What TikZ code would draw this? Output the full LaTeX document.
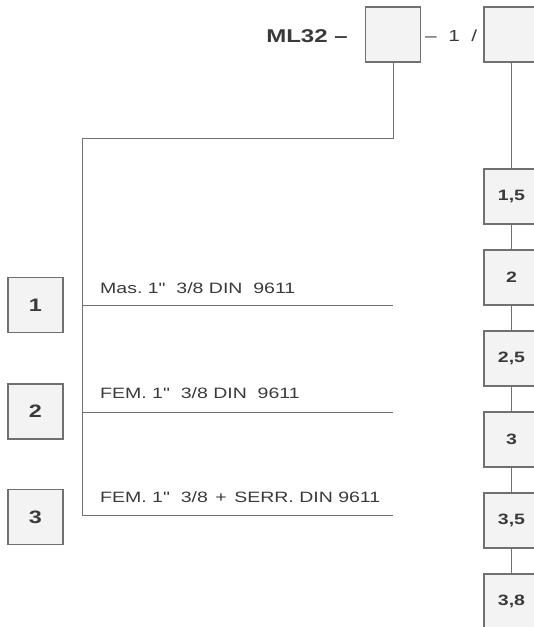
\documentclass[tikz,border=0pt]{standalone}
\usepackage{fontspec}
\setmainfont{Liberation Sans}
\newfontfamily\wide[FakeStretch=1.3]{Liberation Sans}
\definecolor{boxfill}{HTML}{F3F3F3}
\definecolor{boxline}{HTML}{707070}
\definecolor{ink}{HTML}{3A3A3A}
\tikzset{
  sqbox/.style={draw=boxline, fill=boxfill, line width=1.1pt, minimum width=55pt, minimum height=55pt, inner sep=0pt, text=ink, font=\wide\bfseries\fontsize{18}{18}\selectfont},
  smbox/.style={sqbox, font=\wide\bfseries\fontsize{15}{15}\selectfont},
  conn/.style={draw=boxline, line width=1pt},
  lbl/.style={anchor=base west, inner sep=0pt, text=ink, font=\wide\fontsize{15}{15}\selectfont},
}
\begin{document}
\begin{tikzpicture}[x=1pt, y=-1pt]
\clip (0,0) rectangle (534,627);
\fill[white] (0,0) rectangle (534,627);
% header
\node[anchor=base east, inner sep=0pt, text=ink, font=\wide\bfseries\fontsize{18.5}{18.5}\selectfont] (ml) at (348,42) {ML32 –};
\node[sqbox] (A) at (393,34.5) {};
\node[anchor=base west, inner sep=0pt, text=ink, font=\wide\fontsize{16}{16}\selectfont] (one) at (425,41) {–\ \ 1\ \ /};
\node[sqbox] (B) at (511.5,34.5) {};
% left option boxes
\node[sqbox] (o1) at (35.5,305) {1};
\node[sqbox] (o2) at (35.5,411.5) {2};
\node[sqbox] (o3) at (35.5,517) {3};
% left tree
\coordinate (c0) at (393,138);
\coordinate (c1) at (82,138);
\coordinate (h1a) at (82,305);
\coordinate (h1b) at (393,305);
\coordinate (h2a) at (82,412);
\coordinate (h2b) at (393,412);
\coordinate (h3a) at (82,515);
\coordinate (h3b) at (393,515);
\draw[conn] (A.south) -- (c0) -- (c1) -- (h3a) -- (h3b);
\draw[conn] (h1a) -- (h1b);
\draw[conn] (h2a) -- (h2b);
\node[lbl] (t1) at (100,293) {Mas.\ 1"\ \ 3/8 DIN\ \ 9611};
\node[lbl] (t2) at (100,398) {FEM.\ 1"\ \ 3/8 DIN\ \ 9611};
\node[lbl] (t3) at (100,502) {FEM.\ 1"\ \ 3/8\hspace{0.5em}+\hspace{0.5em}SERR.\ DIN\ 9611};
% right column
\node[smbox] (r1) at (511.5,196.5) {1,5};
\node[smbox] (r2) at (511.5,277.5) {2};
\node[smbox] (r3) at (511.5,358.5) {2,5};
\node[smbox] (r4) at (511.5,439.5) {3};
\node[smbox] (r5) at (511.5,520.5) {3,5};
\node[smbox] (r6) at (511.5,601.5) {3,8};
\draw[conn] (B.south) -- (r1.north);
\draw[conn] (r1.south) -- (r2.north);
\draw[conn] (r2.south) -- (r3.north);
\draw[conn] (r3.south) -- (r4.north);
\draw[conn] (r4.south) -- (r5.north);
\draw[conn] (r5.south) -- (r6.north);
\end{tikzpicture}
\end{document}
